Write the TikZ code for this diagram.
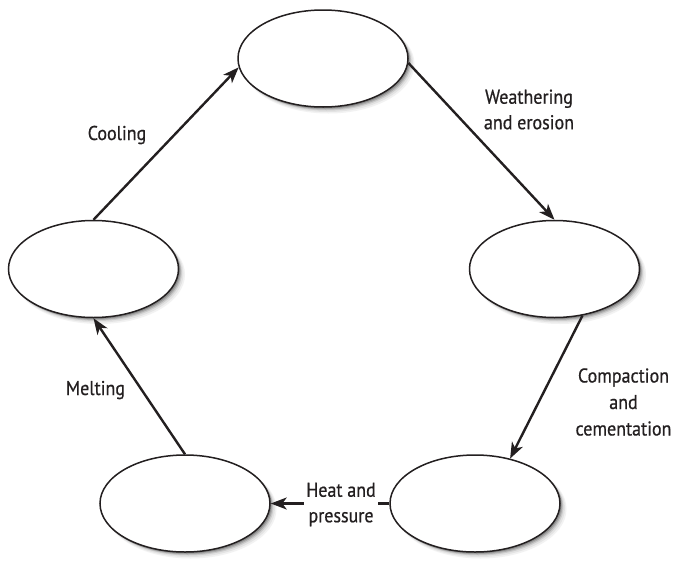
\documentclass[tikz,border=0pt]{standalone}
\usepackage{fontspec}
\setmainfont{PT Sans}[FakeStretch=0.9, FakeBold=0.6]
\usetikzlibrary{shapes.geometric,arrows.meta,backgrounds}
\definecolor{ink}{HTML}{231F20}
\tikzset{
  rock/.style={ellipse, draw=ink, line width=1.5pt, fill=white,
    minimum width=170pt, minimum height=97pt, inner sep=0pt},
  flow/.style={draw=ink, line width=2.4pt, -{Stealth[length=16pt,width=12pt,inset=4.5pt]}},
  plain/.style={draw=ink, line width=2.4pt},
  lbl/.style={text=ink, inner sep=0pt, align=center, font=\fontsize{20}{25.5}\selectfont},
  lblthree/.style={lbl, font=\fontsize{20}{26.5}\selectfont}
}
\begin{document}
\begin{tikzpicture}[x=1pt,y=-1pt]
\useasboundingbox (0,0) rectangle (677,560);
% rock ellipses
\node[rock] (T) at (323,58.5) {};
\node[rock] (R) at (554.5,269) {};
\node[rock] (L) at (93.5,269) {};
\node[rock] (BL) at (185,503.5) {};
\node[rock] (BR) at (475,503.5) {};
% soft shadows
\begin{scope}[on background layer]
\fill[white] (0,0) rectangle (677,560);
\foreach \n in {T,R,L,BL,BR}{
  \fill[black!5]  ([shift={(5.5,5.5)}]\n.center) ellipse [x radius=86, y radius=49.5];
  \fill[black!11] ([shift={(4.5,4.5)}]\n.center) ellipse [x radius=85.5, y radius=49];
  \fill[black!20] ([shift={(3.5,3.5)}]\n.center) ellipse [x radius=85, y radius=48.5];
  \fill[black!32] ([shift={(2.5,2.5)}]\n.center) ellipse [x radius=85, y radius=48.5];
  \fill[black!45] ([shift={(1.5,1.5)}]\n.center) ellipse [x radius=85, y radius=48.5];
}
\end{scope}
% labels
\node[lbl, anchor=base] (cool) at (117,140) {Cooling};
\node[lbl, anchor=base] (melt) at (95.5,395) {Melting};
\node[lbl] (weath) at (529,109.5) {Weathering\\and erosion};
\node[lblthree] (comp) at (623.5,402) {Compaction\\and\\cementation};
\node[lbl, inner xsep=2.5pt] (hp) at (341,504.5) {Heat and\\pressure};
% connectors
\draw[flow] (T.-3) -- (R.north);
\draw[flow] (R.-59) -- (BR.52);
\draw[plain] (BR.west) -- (BR.west -| hp.east);
\draw[flow] (BR.west -| hp.west) -- (BL.east);
\draw[flow] (BL.north) -- (L.south);
\draw[flow] (L.north) -- (T.186);
\end{tikzpicture}
\end{document}
